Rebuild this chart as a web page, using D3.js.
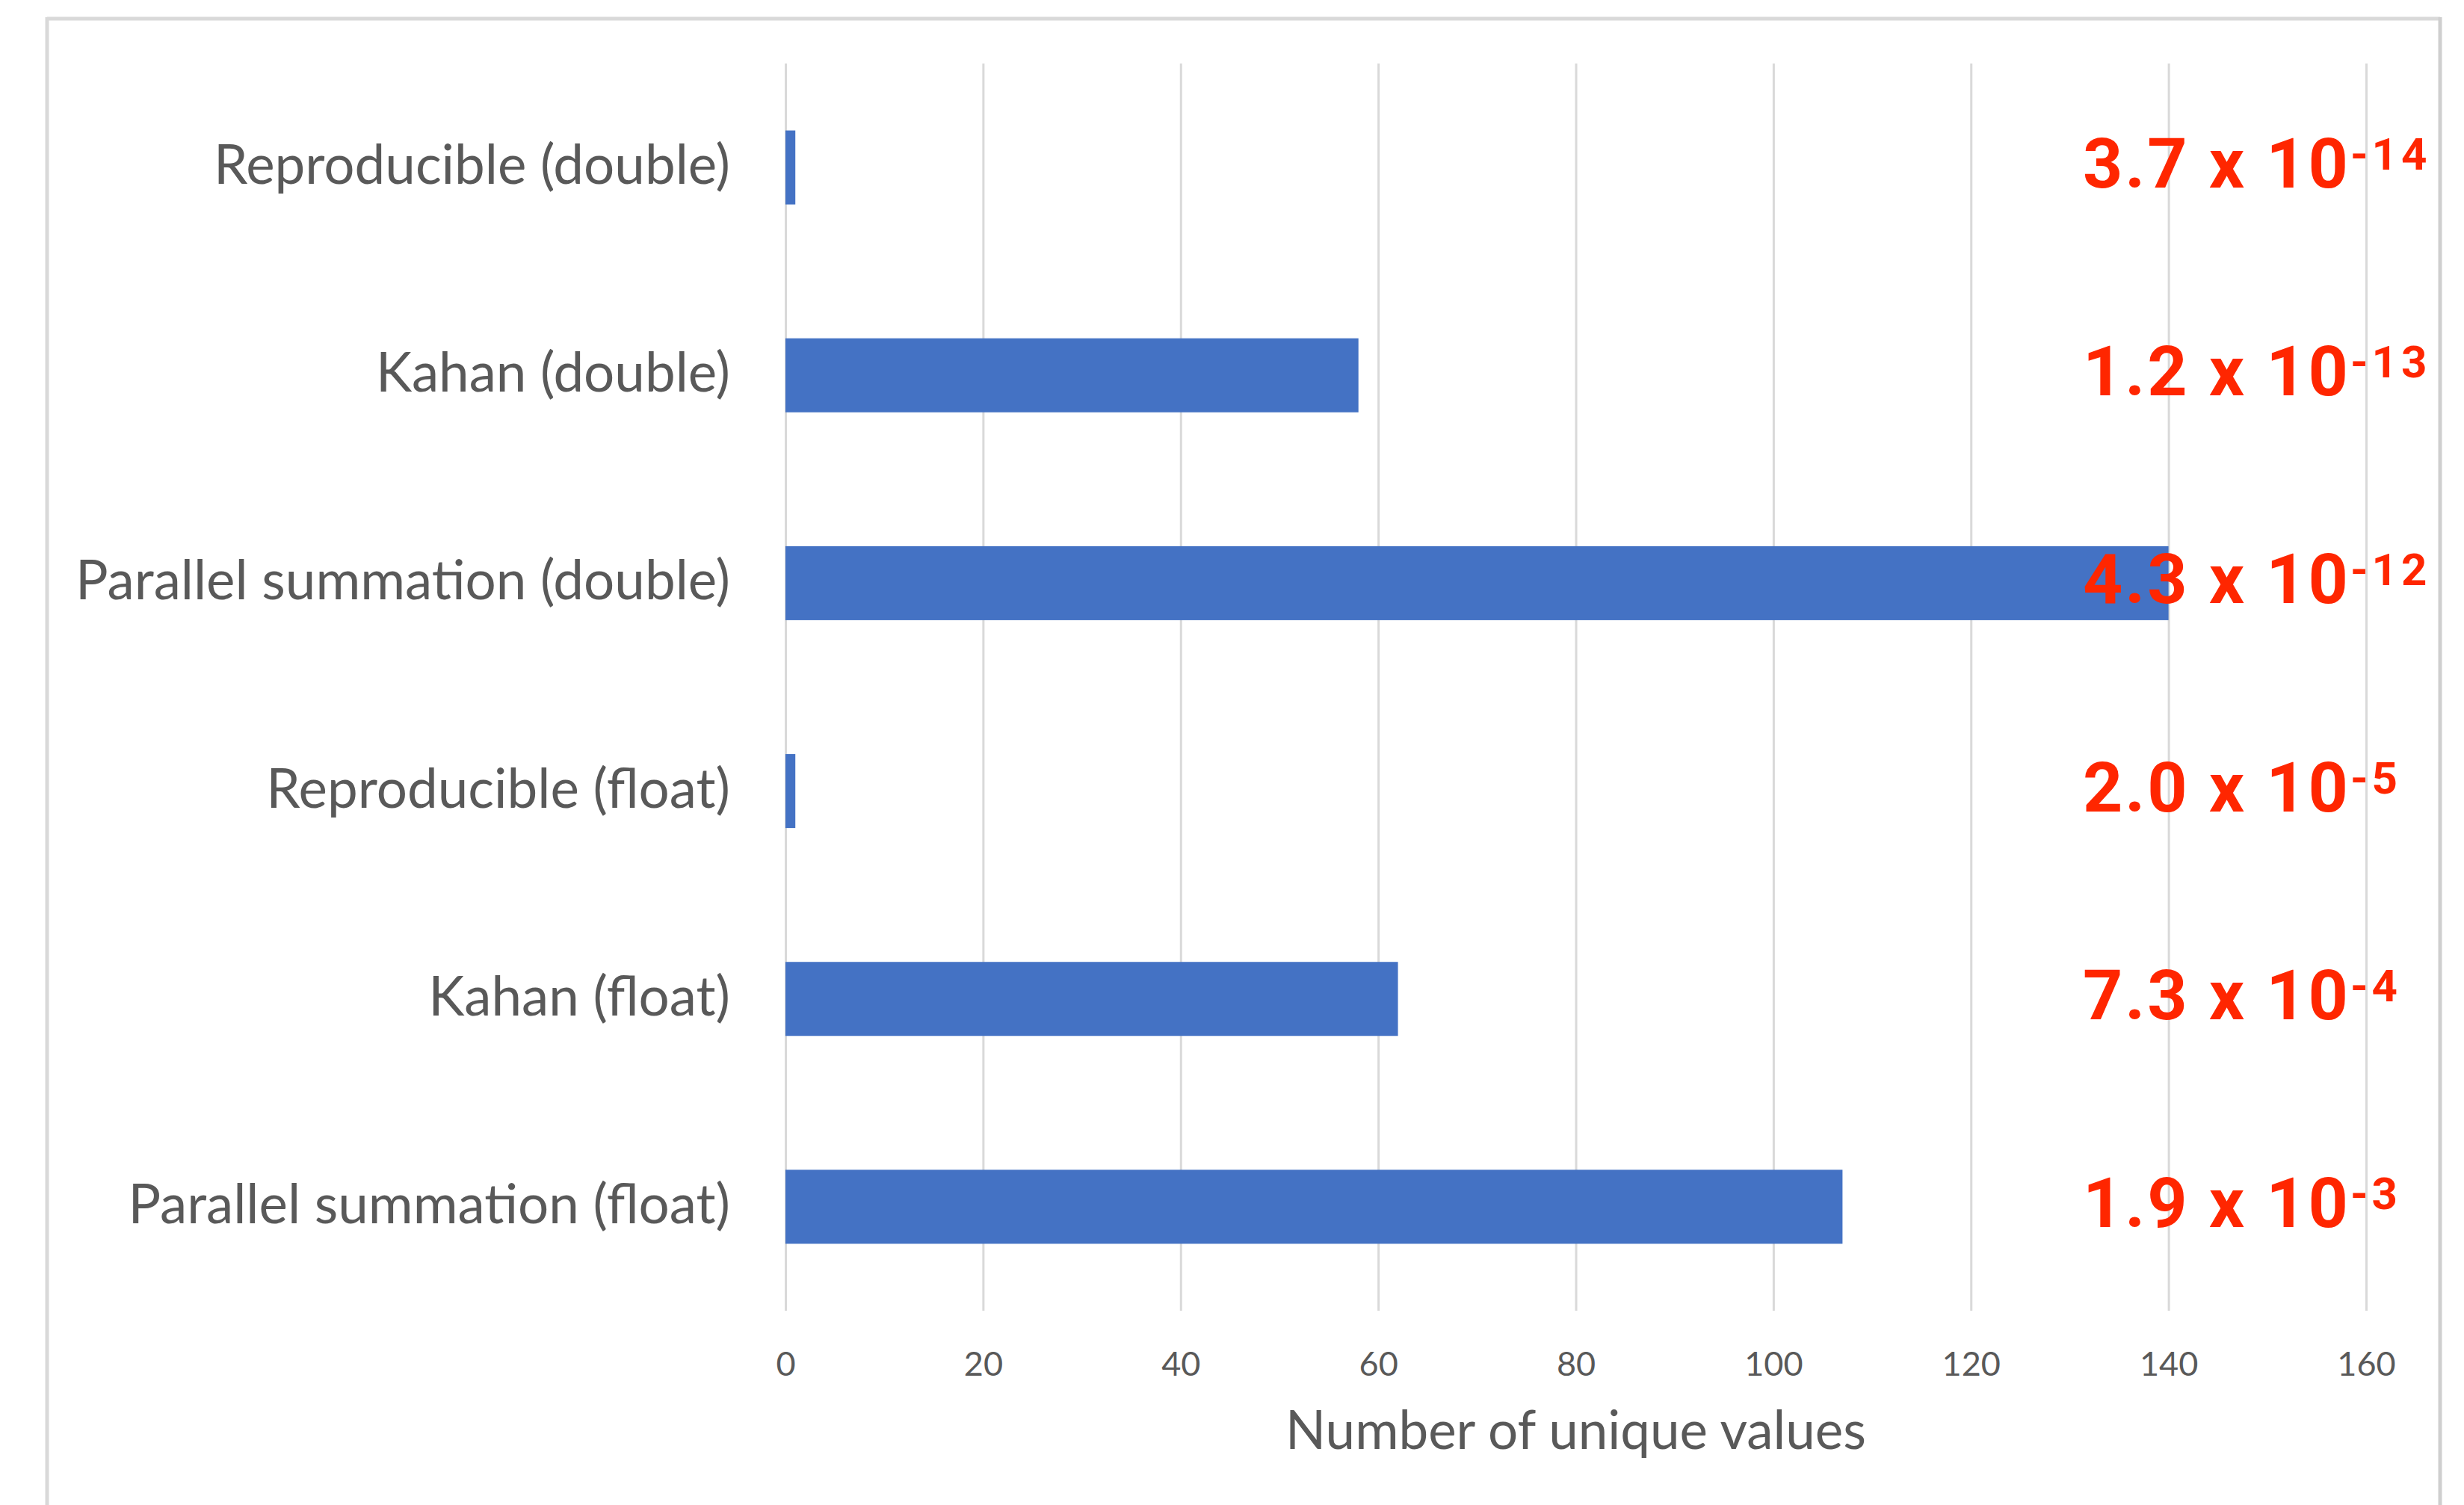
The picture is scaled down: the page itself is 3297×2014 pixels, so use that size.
<!DOCTYPE html>
<html><head><meta charset="utf-8">
<script src="https://cdn.jsdelivr.net/npm/d3@7"></script>
<style>html,body{margin:0;padding:0;background:#fff;overflow:hidden} svg{display:block}</style>
</head><body>
<svg id="chart" width="3297" height="2014"></svg>
<script>
const categories = ["Reproducible (double)", "Kahan (double)", "Parallel summation (double)", "Reproducible (float)", "Kahan (float)", "Parallel summation (float)"];
const uniqueValues = [1, 58, 140, 1, 62, 107];
const errorMantissas = ["3.7", "1.2", "4.3", "2.0", "7.3", "1.9"];
const errorExponents = ["-14", "-13", "-12", "-5", "-4", "-3"];
const xTicks = [0, 20, 40, 60, 80, 100, 120, 140, 160];
const xAxisTitle = "Number of unique values";

const svg = d3.select("#chart");
const W = 3297, H = 2014;
const plot = {left: 1051, right: 3166, top: 85, bottom: 1754};
const textGray = "#595959";
const gridGray = "#d9d9d9";
const barBlue = "#4472C4";
const red = "#FF2600";
const labelFont = "Lato, 'Open Sans', sans-serif";
const annFont = "Roboto, 'Liberation Sans', sans-serif";

svg.append("rect").attr("width", W).attr("height", H).attr("fill", "#fff");

// outer frame
const frame = svg.append("g");
frame.append("line").attr("x1", 63).attr("x2", 3265).attr("y1", 25).attr("y2", 25).attr("stroke", gridGray).attr("stroke-width", 5);
frame.append("line").attr("x1", 63).attr("x2", 63).attr("y1", 23).attr("y2", H + 10).attr("stroke", gridGray).attr("stroke-width", 5);
frame.append("line").attr("x1", 3265).attr("x2", 3265).attr("y1", 23).attr("y2", H + 10).attr("stroke", "#cfcfcf").attr("stroke-width", 5);

const x = d3.scaleLinear().domain([0, 160]).range([plot.left, plot.right]);
const y = d3.scaleBand().domain(categories).range([plot.top, plot.bottom]).paddingInner(0.644).paddingOuter(0.322);

// gridlines
const grid = svg.append("g").attr("transform", `translate(0,${plot.bottom})`)
  .call(d3.axisBottom(x).tickValues(xTicks).tickSize(-(plot.bottom - plot.top)).tickFormat(""));
grid.select(".domain").remove();
grid.selectAll("line").attr("stroke", gridGray).attr("stroke-width", 3);

// bars
svg.append("g").selectAll("rect").data(categories).join("rect")
  .attr("x", x(0))
  .attr("y", d => y(d))
  .attr("width", (d, i) => x(uniqueValues[i]) - x(0))
  .attr("height", y.bandwidth())
  .attr("fill", barBlue);

// x axis tick labels
const xa = svg.append("g").attr("transform", `translate(0,${plot.bottom})`)
  .call(d3.axisBottom(x).tickValues(xTicks).tickSize(0));
xa.select(".domain").remove();
xa.selectAll("text").attr("y", 87).attr("dy", 0)
  .attr("font-family", labelFont).attr("font-size", 45).attr("fill", textGray);

// y axis category labels
const ya = svg.append("g").attr("transform", `translate(${plot.left},0)`)
  .call(d3.axisLeft(y).tickSize(0));
ya.select(".domain").remove();
ya.selectAll("text").attr("x", -74).attr("y", 22).attr("dy", 0)
  .attr("font-family", labelFont).attr("font-size", 70).attr("fill", textGray);
let maxW = 0;
ya.selectAll("text").each(function(){ maxW = Math.max(maxW, this.getComputedTextLength()); });
const labelSize = 70 * 876 / maxW;
ya.selectAll("text").attr("font-size", labelSize);

// axis title
const title = svg.append("text")
  .attr("x", (plot.left + plot.right) / 2).attr("y", 1939)
  .attr("text-anchor", "middle")
  .attr("font-family", labelFont).attr("font-size", 66).attr("fill", textGray)
  .text(xAxisTitle);
const tw = title.node().getComputedTextLength();
title.attr("font-size", 66 * 777 / tw);

// error annotations
const ann = svg.append("g").selectAll("text").data(categories).join("text")
  .attr("x", 2787)
  .attr("y", d => y(d) + y.bandwidth() / 2 + 27)
  .attr("font-family", annFont).attr("font-weight", 700).attr("font-size", 93).attr("fill", red);
ann.append("tspan").attr("letter-spacing", 3).text((d, i) => errorMantissas[i] + " x 10");
ann.append("tspan").attr("dy", -24).attr("font-size", 60).attr("letter-spacing", 5).text((d, i) => errorExponents[i]);
</script>
</body></html>
